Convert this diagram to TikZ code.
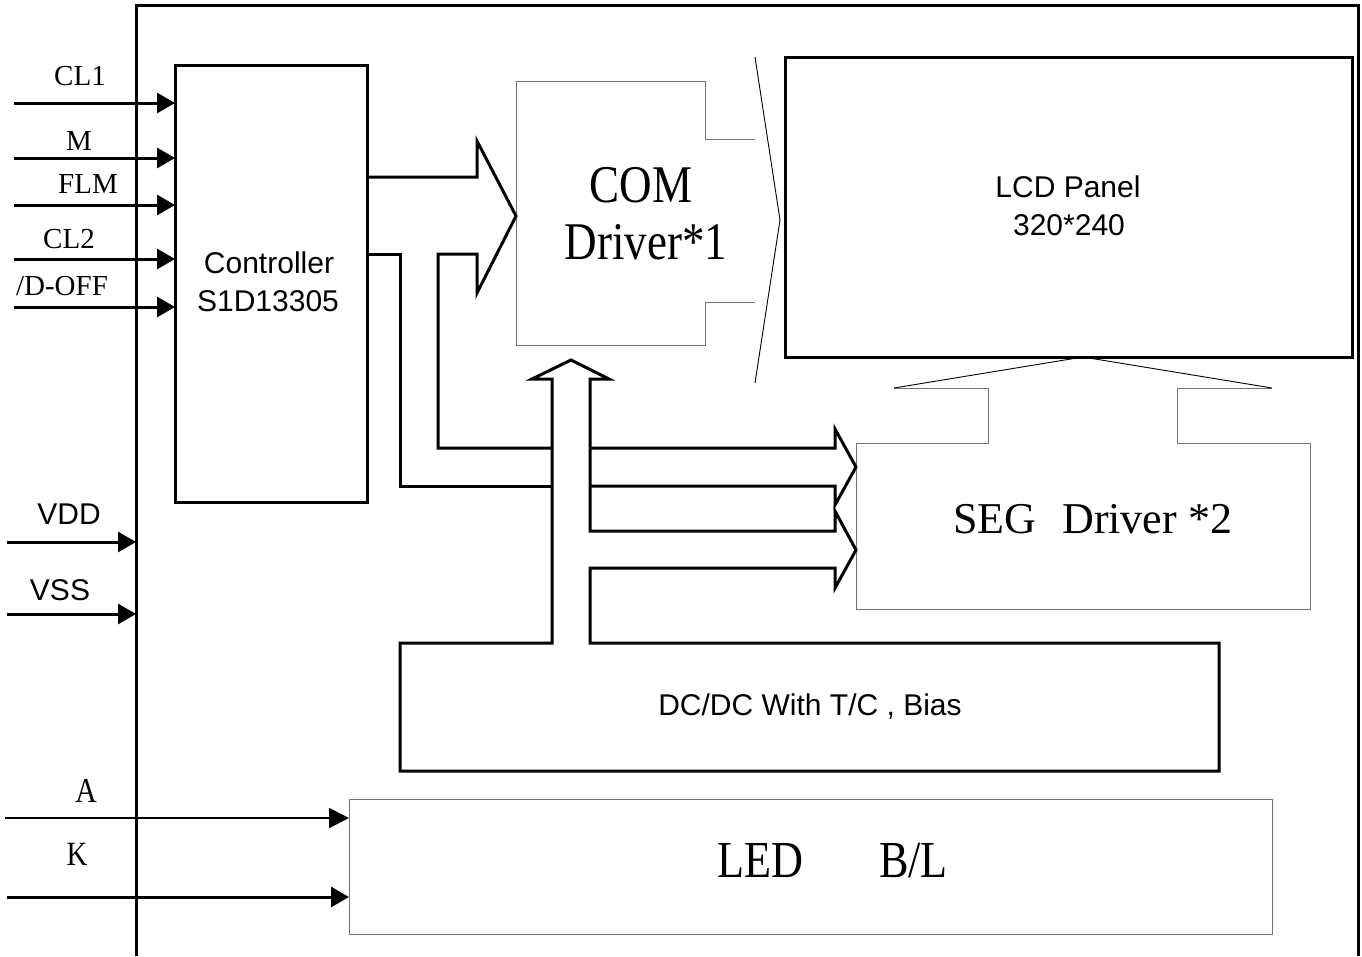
\documentclass[tikz,border=0pt]{standalone}
\usepackage{fontspec}
\setmainfont{Liberation Serif}
\setsansfont{Liberation Sans}
\newfontfamily\condserif[FakeStretch=0.85]{Liberation Serif}
\usetikzlibrary{arrows.meta}
\begin{document}
\begin{tikzpicture}[x=1pt,y=-1pt,
  thickln/.style={line width=3pt},
  thinbox/.style={draw=black!55, line width=1pt},
  thintri/.style={draw=black, line width=0.9pt},
  sig/.style={line width=3pt, -{Triangle[length=18pt,width=20pt]}},
  sigthin/.style={line width=2pt, -{Triangle[length=20pt,width=20pt]}},
  region/.style={inner sep=0pt, outer sep=0pt},
  sanslbl/.style={font=\sffamily\fontsize{30}{36}\selectfont, inner sep=0pt, anchor=base},
  seriflbl/.style={font=\rmfamily\fontsize{29}{35}\selectfont, inner sep=0pt, anchor=base},
  bigserif/.style={font=\condserif\fontsize{#1}{#1}\selectfont, inner sep=0pt, anchor=base}]
\useasboundingbox (0,0) rectangle (1362,956);
\fill[white] (0,0) rectangle (1362,956);

% outer frame
\coordinate (fr) at (136,5);
\draw[thickln] (136,956) -- (fr) -- (1358,5) -- (1358,956);

% main blocks
\node[draw, thickln, region, minimum width=192pt, minimum height=437pt] (ctrl) at (271,283.5) {};
\node[draw, thickln, region, minimum width=567pt, minimum height=300pt] (lcd) at (1068.5,207) {};
\node[thinbox, region, minimum width=923pt, minimum height=135pt] (led) at (810.5,866.5) {};
\node[region, minimum width=189pt, minimum height=264pt] (com) at (610.5,213) {};
\node[region, minimum width=454pt, minimum height=166pt] (seg) at (1083,526) {};
\node[region, minimum width=819pt, minimum height=128pt] (dcdc) at (809.5,707) {};

% COM driver outline and output arrow to LCD
\draw[thinbox] (755,139) -- (705,139) -- (com.north east) -- (com.north west)
  -- (com.south west) -- (com.south east) -- (705,302) -- (755,302);
\draw[thintri] (755,57) -- (780,220) -- (755,383);

% SEG driver outline and output arrow to LCD
\draw[thinbox] (894,388) -- (988,388) -- (988,443) -- (seg.north west) -- (seg.south west)
  -- (seg.south east) -- (seg.north east) -- (1177,443) -- (1177,388) -- (1272,388);
\draw[thintri] (894,388) -- (lcd.south -| 1083,0) -- (1272,388);

% controller buses
\draw[thickln] (ctrl.east |- 0,177) -- (477,177) -- (477,141) -- (com.west |- 0,216)
  -- (477,293) -- (477,254) -- (438,254) -- (438,448) -- (552,448);
\draw[thickln] (ctrl.east |- 0,254) -- (400,254) -- (400,486) -- (552,486);
\draw[thickln] (590,448) -- (835,448) -- (835,429) -- (seg.west |- 0,467) -- (835,505)
  -- (835,486) -- (590,486);
% DC/DC block with bus up to COM and to SEG
\draw[thickln] (590,531) -- (835,531) -- (835,511) -- (seg.west |- 0,550) -- (835,588)
  -- (835,568) -- (590,568) -- (590,643) -- (dcdc.north east) -- (dcdc.south east)
  -- (dcdc.south west) -- (dcdc.north west) -- (552,643) -- (552,379) -- (532,379)
  -- (571,360) -- (609,379) -- (590,379) -- cycle;

% input signals
\foreach \n/\y in {cl1/103, m/158, flm/205, cl2/259, doff/307}{
  \coordinate (in\n) at (14,\y);
  \draw[sig] (in\n) -- (in\n -| ctrl.west);
}
\coordinate (invdd) at (7,542);
\coordinate (invss) at (7,614);
\draw[sig] (invdd) -- (invdd -| fr);
\draw[sig] (invss) -- (invss -| fr);
\coordinate (ina) at (5,818);
\coordinate (ink) at (7,897);
\draw[sigthin] (ina) -- (ina -| led.west);
\draw[sig] (ink) -- (ink -| led.west);

% labels
\node[seriflbl] (lcl1) at (80,85) {CL1};
\node[seriflbl] (lm) at (79,150) {M};
\node[seriflbl] (lflm) at (88,193) {FLM};
\node[seriflbl] (lcl2) at (69,248) {CL2};
\node[seriflbl] (ldoff) at (62,295) {/D-OFF};
\node[sanslbl] (lvdd) at (69,524) {VDD};
\node[sanslbl] (lvss) at (60,600) {VSS};
\node[bigserif=35] (la) at (86,802) {A};
\node[bigserif=34] (lk) at (77,865) {K};

\node[sanslbl] (t1) at (269,273) {Controller};
\node[sanslbl] (t2) at (268,311) {S1D13305};
\node[sanslbl] (t3) at (1068,197) {LCD Panel};
\node[sanslbl] (t4) at (1069,235) {320*240};
\node[sanslbl] (t5) at (810,715) {DC/DC With T/C , Bias};
\node[bigserif=53] (t6) at (641,202) {COM};
\node[bigserif=53] (t7) at (646,259) {Driver*1};
\node[font=\rmfamily\fontsize{44}{44}\selectfont, inner sep=0pt, anchor=base west] (t8) at (953,533) {SEG\hspace{26pt}Driver *2};
\node[font=\condserif\fontsize{52}{52}\selectfont, inner sep=0pt, anchor=base west] (t9) at (717,877) {LED\hspace{76pt}B/L};
\end{tikzpicture}
\end{document}
